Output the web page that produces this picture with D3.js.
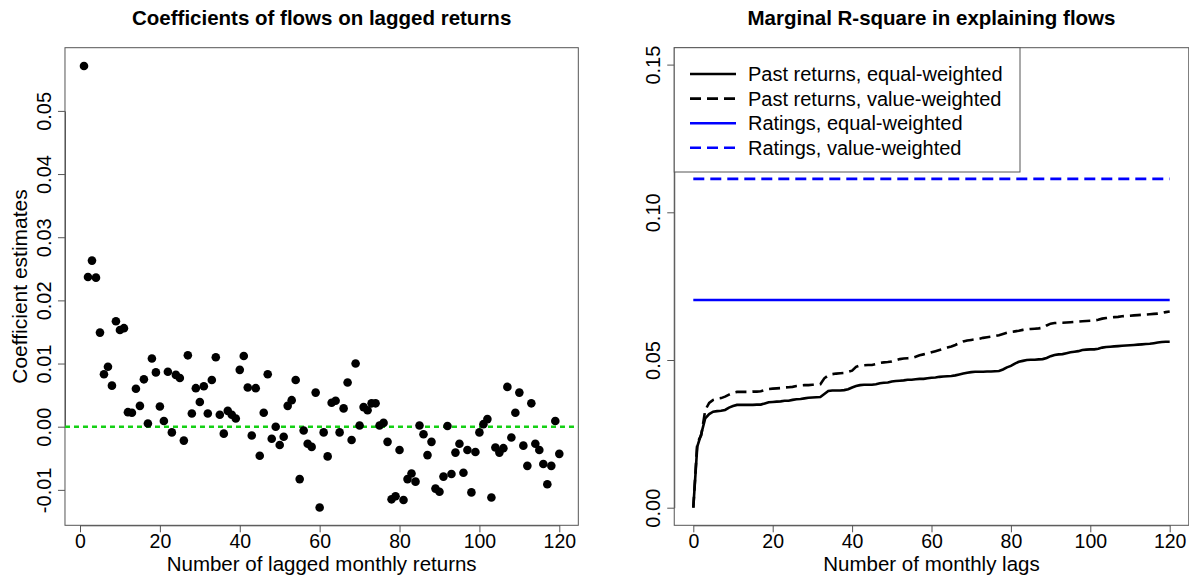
<!DOCTYPE html>
<html><head><meta charset="utf-8">
<script src="https://cdn.jsdelivr.net/npm/d3@7/dist/d3.min.js"></script>
<style>
body{margin:0;background:#fff;}
text{font-family:"Liberation Sans",Arial,Helvetica,sans-serif;fill:#000;}
</style></head><body>
<svg id="c" width="1189" height="575"></svg>
<script>
// ---------- data ----------
const titleLeft = "Coefficients of flows on lagged returns";
const titleRight = "Marginal R-square in explaining flows";
const xLabelLeft = "Number of lagged monthly returns";
const yLabelLeft = "Coefficient estimates";
const xLabelRight = "Number of monthly lags";

// lags 1..120
const coefLags = d3.range(1, 121);
const coefValues = [
 0.0571,0.0237,0.0263,0.0236,0.0149,0.0083,0.0095,0.0065,0.0167,0.0153,
 0.0156,0.0023,0.0022,0.0060,0.0033,0.0075,0.0005,0.0108,0.0086,0.0032,
 0.0009,0.0087,-0.0009,0.0082,0.0077,-0.0022,0.0113,0.0021,0.0061,0.0039,
 0.0064,0.0021,0.0074,0.0110,0.0019,-0.0011,0.0025,0.0019,0.0013,0.0090,
 0.0112,0.0062,-0.0014,0.0061,-0.0046,0.0022,0.0083,-0.0019,0.0000,-0.0029,
 -0.0016,0.0033,0.0042,0.0074,-0.0083,-0.0006,-0.0027,-0.0032,0.0054,-0.0128,
 -0.0009,-0.0047,0.0038,0.0041,-0.0009,0.0029,0.0070,-0.0021,0.0100,0.0002,
 0.0031,0.0026,0.0037,0.0037,0.0002,0.0006,-0.0024,-0.0115,-0.0110,-0.0037,
 -0.0116,-0.0083,-0.0074,-0.0087,0.0002,-0.0012,-0.0045,-0.0024,-0.0098,-0.0103,
 -0.0079,0.0001,-0.0075,-0.0041,-0.0027,-0.0073,-0.0037,-0.0104,-0.0040,-0.0009,
 0.0004,0.0012,-0.0112,-0.0033,-0.0041,-0.0034,0.0063,-0.0017,0.0022,0.0054,
 -0.0030,-0.0062,0.0037,-0.0027,-0.0037,-0.0059,-0.0091,-0.0062,0.0009,-0.0043
];
const coefYTicks = [-0.01, 0.00, 0.01, 0.02, 0.03, 0.04, 0.05];
const coefYTickLabels = ["-0.01","0.00","0.01","0.02","0.03","0.04","0.05"];
const xTicks = [0, 20, 40, 60, 80, 100, 120];

// lags 0..120
const r2Lags = d3.range(0, 121);
const pastRetEW = [
 0,0.0207,0.0250,0.0302,0.0317,0.0325,0.0327,0.0328,0.0331,0.0339,
 0.0344,0.0348,0.0348,0.0348,0.0348,0.0348,0.0349,0.0349,0.0353,0.0357,
 0.0358,0.0359,0.0360,0.0362,0.0362,0.0365,0.0367,0.0368,0.0370,0.0372,
 0.0373,0.0374,0.0375,0.0385,0.0395,0.0397,0.0397,0.0397,0.0398,0.0401,
 0.0407,0.0412,0.0415,0.0416,0.0416,0.0416,0.0418,0.0421,0.0423,0.0424,
 0.0427,0.0429,0.0430,0.0431,0.0433,0.0433,0.0435,0.0436,0.0436,0.0438,
 0.0440,0.0441,0.0443,0.0444,0.0445,0.0446,0.0448,0.0451,0.0454,0.0457,
 0.0459,0.0460,0.0460,0.0460,0.0461,0.0461,0.0462,0.0463,0.0468,0.0475,
 0.0480,0.0488,0.0494,0.0497,0.0500,0.0501,0.0501,0.0502,0.0503,0.0507,
 0.0513,0.0517,0.0519,0.0520,0.0523,0.0526,0.0528,0.0530,0.0534,0.0535,
 0.0536,0.0536,0.0538,0.0542,0.0544,0.0545,0.0546,0.0547,0.0548,0.0549,
 0.0550,0.0551,0.0552,0.0553,0.0554,0.0555,0.0557,0.0559,0.0561,0.0562,
 0.0562
];
const pastRetVW = [
 0,0.0220,0.0245,0.0330,0.0355,0.0365,0.0369,0.0371,0.0376,0.0383,
 0.0389,0.0392,0.0392,0.0392,0.0392,0.0393,0.0393,0.0394,0.0398,0.0402,
 0.0403,0.0404,0.0405,0.0407,0.0408,0.0409,0.0412,0.0414,0.0415,0.0415,
 0.0416,0.0416,0.0418,0.0438,0.0448,0.0452,0.0454,0.0455,0.0456,0.0460,
 0.0464,0.0477,0.0482,0.0482,0.0483,0.0483,0.0486,0.0490,0.0492,0.0493,
 0.0495,0.0499,0.0503,0.0505,0.0506,0.0507,0.0511,0.0516,0.0519,0.0522,
 0.0526,0.0530,0.0534,0.0538,0.0542,0.0546,0.0551,0.0557,0.0563,0.0566,
 0.0568,0.0570,0.0572,0.0575,0.0577,0.0579,0.0581,0.0584,0.0588,0.0592,
 0.0595,0.0597,0.0599,0.0602,0.0604,0.0605,0.0606,0.0607,0.0609,0.0617,
 0.0623,0.0625,0.0626,0.0626,0.0627,0.0628,0.0629,0.0630,0.0631,0.0632,
 0.0633,0.0634,0.0636,0.0640,0.0642,0.0644,0.0645,0.0646,0.0648,0.0649,
 0.0650,0.0651,0.0652,0.0653,0.0654,0.0655,0.0656,0.0657,0.0659,0.0662,
 0.0664
];
const ratingsEW = 0.0703;
const ratingsVW = 0.1113;
const r2YTicks = [0.00, 0.05, 0.10, 0.15];
const r2YTickLabels = ["0.00","0.05","0.10","0.15"];
const legendLabels = ["Past returns, equal-weighted","Past returns, value-weighted","Ratings, equal-weighted","Ratings, value-weighted"];
const legendColors = ["#000","#000","#0000ff","#0000ff"];
const legendDash = [null,"11,6",null,"11,6"];

// ---------- drawing ----------
const svg = d3.select("#c");
const FS = 20;
const FS_XT = 19.5;
const FS_LAB = 20.5;
const FS_MAIN = 20.5;
const boxTop = 47.7, boxBot = 525.3;

// Left panel scales
const xL = d3.scaleLinear().domain([0,120]).range([80,559.3]);
const yL = d3.scaleLinear().domain([0,0.05]).range([426.7,110.9]);
// Right panel scales
const xR = d3.scaleLinear().domain([0,120]).range([693.3,1169.7]);
const yR = d3.scaleLinear().domain([0,0.15]).range([507.7,64.6]);

function frame(x0,x1){
  svg.append("rect").attr("x",x0).attr("y",boxTop).attr("width",x1-x0).attr("height",boxBot-boxTop)
    .attr("fill","none").attr("stroke","#555").attr("stroke-width",1);
}
function xAxis(xs){
  const g = svg.append("g").attr("transform",`translate(0,${boxBot})`);
  g.call(d3.axisBottom(xs).tickValues(xTicks).tickSize(7).tickSizeOuter(0).tickFormat(d3.format("d")));
  g.select(".domain").attr("stroke","#555");
  g.selectAll(".tick line").attr("stroke","#555");
  g.selectAll(".tick text").attr("font-size",FS_XT).attr("y",9).attr("dy","0.71em")
    .attr("font-family","Liberation Sans, Arial, sans-serif").attr("fill","#000");
}
function yAxis(ys,x0,ticks,labels){
  const g = svg.append("g").attr("transform",`translate(${x0},0)`);
  g.call(d3.axisLeft(ys).tickValues(ticks).tickSize(7).tickSizeOuter(0).tickFormat((d,i)=>labels[i]));
  g.select(".domain").attr("stroke","#555");
  g.selectAll(".tick line").attr("stroke","#555");
  g.selectAll(".tick text").attr("font-size",FS).attr("x",0).attr("dy",0)
    .attr("text-anchor","middle").attr("transform","translate(-14,0) rotate(-90)")
    .attr("font-family","Liberation Sans, Arial, sans-serif").attr("fill","#000");
}

// ----- left -----
const lx0 = xL(-3.76), lx1 = xL(124.76);
frame(lx0, lx1);
xAxis(xL);
yAxis(yL, lx0, coefYTicks, coefYTickLabels);
svg.append("line").attr("x1",lx0).attr("x2",lx1).attr("y1",yL(0)).attr("y2",yL(0))
  .attr("stroke","#14d014").attr("stroke-width",2.6).attr("stroke-dasharray","5,4");
svg.append("g").selectAll("circle").data(coefLags).join("circle")
  .attr("cx",(d)=>xL(d)).attr("cy",(d,i)=>yL(coefValues[i])).attr("r",4.3).attr("fill","#000");
svg.append("text").attr("x",(lx0+lx1)/2).attr("y",25).attr("text-anchor","middle")
  .attr("font-size",FS_MAIN).attr("font-weight","bold").text(titleLeft);
svg.append("text").attr("x",(lx0+lx1)/2).attr("y",570.5).attr("text-anchor","middle")
  .attr("font-size",FS_LAB).text(xLabelLeft);
svg.append("text").attr("transform",`translate(27,${(boxTop+boxBot)/2}) rotate(-90)`).attr("text-anchor","middle")
  .attr("font-size",21).text(yLabelLeft);

// ----- right -----
const rx0 = xR(-4.8), rx1 = xR(124.8);
frame(rx0, rx1);
xAxis(xR);
yAxis(yR, rx0, r2YTicks, r2YTickLabels);
const lineR = d3.line().x((d)=>xR(d[0])).y((d)=>yR(d[1]));
svg.append("path").attr("d",lineR([[0,ratingsVW],[120,ratingsVW]])).attr("fill","none")
  .attr("stroke","#0000ff").attr("stroke-width",2.6).attr("stroke-dasharray","11,6");
svg.append("path").attr("d",lineR([[0,ratingsEW],[120,ratingsEW]])).attr("fill","none")
  .attr("stroke","#0000ff").attr("stroke-width",2.6);
svg.append("path").attr("d",lineR(r2Lags.map((l,i)=>[l,pastRetVW[i]]))).attr("fill","none")
  .attr("stroke","#000").attr("stroke-width",2.6).attr("stroke-dasharray","11,6");
svg.append("path").attr("d",lineR(r2Lags.map((l,i)=>[l,pastRetEW[i]]))).attr("fill","none")
  .attr("stroke","#000").attr("stroke-width",2.6);
svg.append("text").attr("x",(rx0+rx1)/2).attr("y",25).attr("text-anchor","middle")
  .attr("font-size",FS_MAIN).attr("font-weight","bold").text(titleRight);
svg.append("text").attr("x",(rx0+rx1)/2).attr("y",570.5).attr("text-anchor","middle")
  .attr("font-size",FS_LAB).text(xLabelRight);

// legend
const lg = svg.append("g");
lg.append("rect").attr("x",rx0).attr("y",boxTop).attr("width",1020-rx0).attr("height",172-boxTop)
  .attr("fill","#fff").attr("stroke","#555").attr("stroke-width",1);
legendLabels.forEach((lab,i)=>{
  const yy = 74 + i*24.6;
  lg.append("line").attr("x1",690).attr("x2",736).attr("y1",yy).attr("y2",yy)
    .attr("stroke",legendColors[i]).attr("stroke-width",2.6).attr("stroke-dasharray",legendDash[i]);
  lg.append("text").attr("x",748).attr("y",yy+7).attr("font-size",FS).text(lab);
});
</script></body></html>
